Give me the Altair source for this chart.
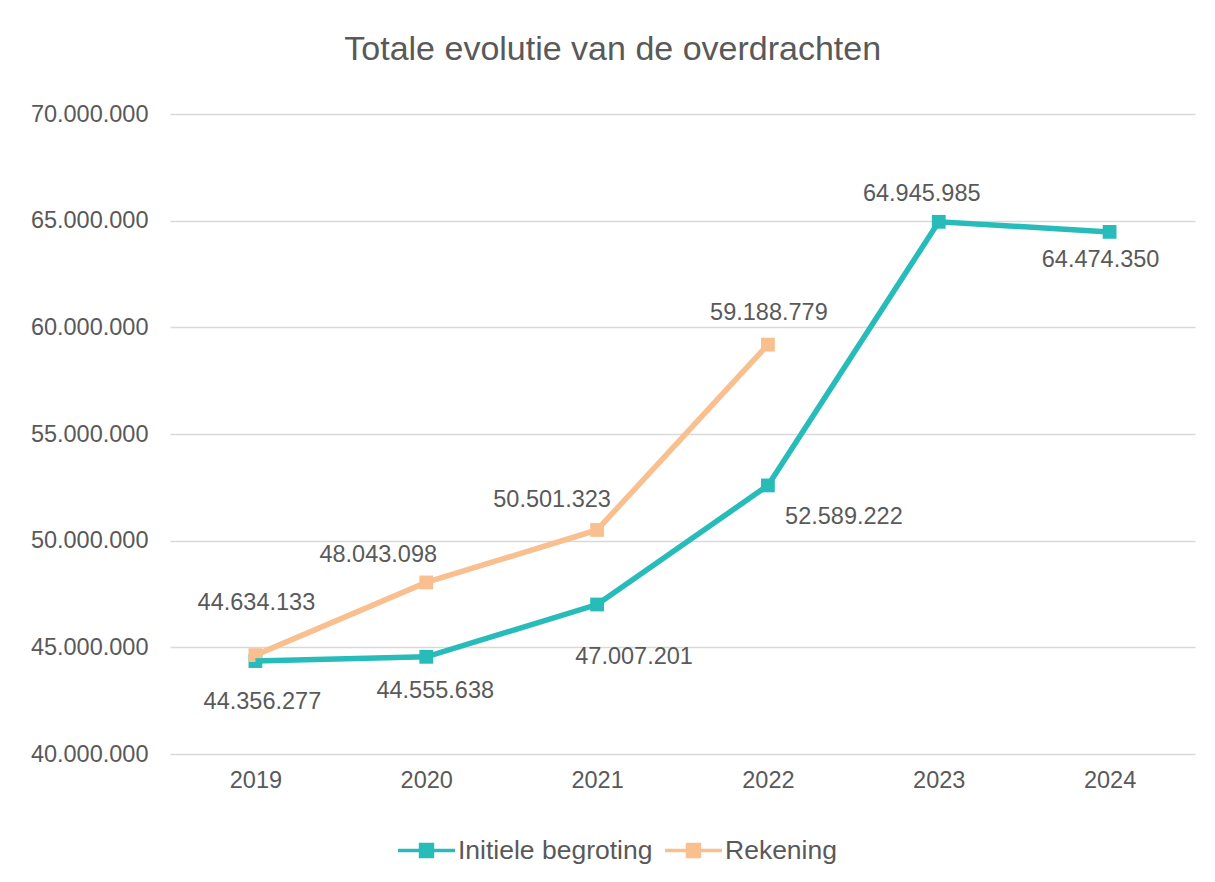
import altair as alt
import pandas as pd

years = ["2019", "2020", "2021", "2022", "2023", "2024"]
begroting = [44356277, 44555638, 47007201, 52589222, 64945985, 64474350]
rekening = [44634133, 48043098, 50501323, 59188779]
series_names = ["Initiele begroting", "Rekening"]
colors = ["#27BCBA", "#F9BF8F"]
y_ticks = [40000000, 45000000, 50000000, 55000000, 60000000, 65000000, 70000000]
title_text = "Totale evolutie van de overdrachten"

rows = []
for yr, v in zip(years, begroting):
    rows.append({"year": yr, "value": v, "series": series_names[0]})
for yr, v in zip(years, rekening):
    rows.append({"year": yr, "value": v, "series": series_names[1]})
df = pd.DataFrame(rows)
df["label"] = df["value"].map(lambda v: f"{v:,}".replace(",", "."))

# label placement (pixel offsets from the point), like the manually placed Excel labels
label_offsets = {
    (series_names[0], "2019"): (7, 41),
    (series_names[0], "2020"): (9, 34),
    (series_names[0], "2021"): (37, 52),
    (series_names[0], "2022"): (76, 32),
    (series_names[0], "2023"): (-17, -28),
    (series_names[0], "2024"): (-9, 28),
    (series_names[1], "2019"): (1, -52),
    (series_names[1], "2020"): (-48, -27),
    (series_names[1], "2021"): (-45, -30),
    (series_names[1], "2022"): (1, -32),
}

TXT = "#595959"
FONT = "Liberation Sans"

x_enc = alt.X(
    "year:N",
    sort=years,
    axis=alt.Axis(
        title=None, labelAngle=0, domain=False, ticks=False, grid=False,
        labelFontSize=23.5, labelColor=TXT, labelPadding=14,
    ),
)
y_enc = alt.Y(
    "value:Q",
    scale=alt.Scale(domain=[40000000, 70000000], nice=False, zero=False),
    axis=alt.Axis(
        title=None, values=y_ticks, domain=False, ticks=False, grid=True,
        gridColor="#D9D9D9", gridWidth=1.3, labelFontSize=23.5, labelColor=TXT,
        labelPadding=22,
        labelExpr="replace(replace(format(datum.value, ','), ',', '.'), ',', '.')",
    ),
)

legend_path = ("M-1,-0.06L1,-0.06L1,0.06L-1,0.06Z"
               "M-0.27,-0.27L0.27,-0.27L0.27,0.27L-0.27,0.27Z")

legend = alt.Legend(
    title=None, orient="none", legendX=228, legendY=708,
    direction="horizontal", symbolType=legend_path, symbolSize=3249,
    symbolStrokeWidth=0, symbolOpacity=1, labelFontSize=26.5, labelLimit=0,
    labelColor=TXT, labelOffset=3, columnPadding=12, labelFont=FONT,
)
color_enc = alt.Color(
    "series:N", scale=alt.Scale(domain=series_names, range=colors), legend=legend
)

base = alt.Chart(df)

line = base.mark_line(strokeWidth=5.5).encode(x=x_enc, y=y_enc, color=color_enc)

points = base.mark_point(shape="square", filled=True, size=190, opacity=1).encode(
    x=x_enc, y=y_enc, color=color_enc
)

layers = [points, line]
for (s, yr), (dx, dy) in label_offsets.items():
    t = base.transform_filter(
        (alt.datum.series == s) & (alt.datum.year == yr)
    ).mark_text(
        dx=dx, dy=dy, fontSize=23.5, color=TXT, font=FONT,
        align="center", baseline="middle",
    ).encode(x=x_enc, y=y_enc, text="label:N")
    layers.append(t)

chart = alt.layer(*layers).properties(
    width=1025,
    height=640,
    padding={"left": 22, "top": 25, "right": 10, "bottom": 5},
    title=alt.Title(
        title_text, fontSize=34, color=TXT, font=FONT, fontWeight="normal",
        anchor="middle", frame="bounds", offset=35,
    ),
).configure(font=FONT).configure_view(stroke=None)

chart.save("out.html", embed_options={"renderer": "svg", "actions": False})
